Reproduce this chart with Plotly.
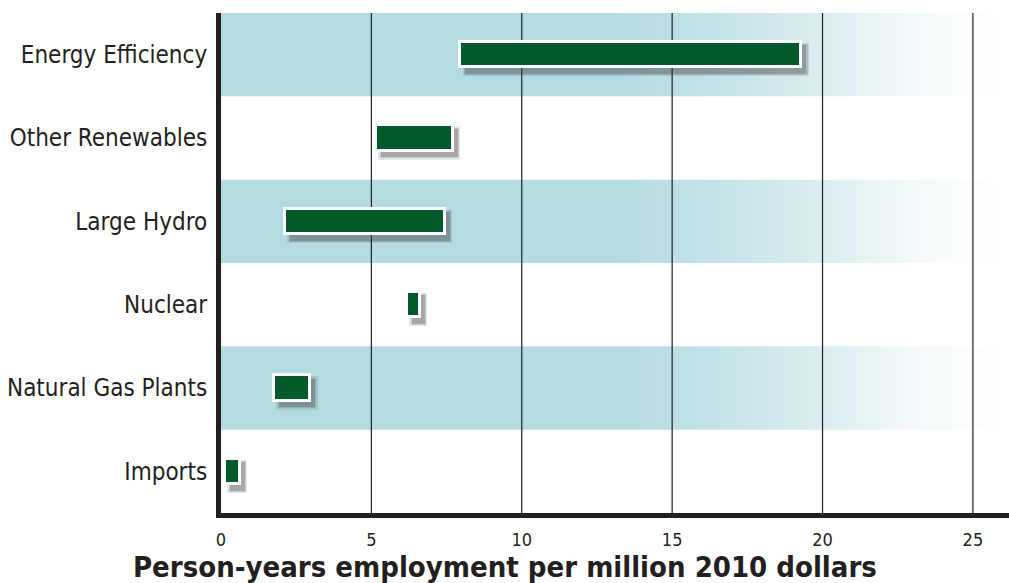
import plotly.graph_objects as go

categories = ["Energy Efficiency", "Other Renewables", "Large Hydro",
              "Nuclear", "Natural Gas Plants", "Imports"]
low = [7.95, 5.15, 2.12, 6.18, 1.76, 0.13]
high = [19.3, 7.71, 7.44, 6.61, 2.96, 0.63]
x_ticks = [0, 5, 10, 15, 20, 25]
x_title = "Person-years employment per million 2010 dollars"

XMAX = 26.2
W, H = 1009, 583
ML, MR, MT, MB = 221, 0, 13, 70
TXT = "#231f20"
FONT = "Liberation Sans Narrow, DejaVu Sans Condensed, Arial Narrow, sans-serif"
BAND = "#b3dbe1"
GREEN = "#005a2b"

n = len(categories)
idx = list(range(n))

fig = go.Figure()

# alternating bands (rows 0, 2, 4) with horizontal fade to white
bx, by = [], []
for i in idx[::2]:
    bx += [0, XMAX, XMAX, 0, 0, None]
    by += [i - 0.5, i - 0.5, i + 0.5, i + 0.5, i - 0.5, None]
fig.add_trace(go.Scatter(
    x=bx, y=by, mode="lines", fill="toself", line=dict(width=0),
    fillgradient=dict(type="horizontal", colorscale=[
        [0, BAND], [0.5, BAND], [0.62, "#c2e2e7"], [0.76, "#dbedf0"],
        [0.88, "#f3f9fa"], [1, "#ffffff"]]),
    hoverinfo="skip", showlegend=False, xaxis="x", yaxis="y"))

# vertical grid lines
gx, gy = [], []
for t in x_ticks[1:]:
    gx += [t, t, None]
    gy += [-0.52, 5.5, None]
fig.add_trace(go.Scatter(x=gx, y=gy, mode="lines",
                         line=dict(color=TXT, width=1.2),
                         hoverinfo="skip", showlegend=False,
                         xaxis="x", yaxis="y"))

widths = [hi - lo for lo, hi in zip(low, high)]
BW = 0.306
pxx = (W - ML - MR) / XMAX
pxy = (H - MT - MB) / n
dx = 5 / pxx
dy = 5 / pxy

# soft drop shadows
for grow, op in [(2.5, 0.12), (1.2, 0.16), (0.0, 0.25)]:
    gxu = grow / pxx
    gyu = grow / pxy
    fig.add_trace(go.Bar(
        orientation="h", y=[i + dy for i in idx],
        x=[w + 2 * gxu for w in widths],
        base=[lo + dx - gxu for lo in low],
        width=BW + 2 * gyu + 3 / pxy,
        marker=dict(color="#3a3a3a", opacity=op, line=dict(width=0)),
        hoverinfo="skip", showlegend=False, xaxis="x2", yaxis="y2"))

# the bars
fig.add_trace(go.Bar(
    orientation="h", y=idx, x=widths, base=low, width=BW,
    marker=dict(color=GREEN, line=dict(color="white", width=3)),
    customdata=list(zip(categories, low, high)),
    hovertemplate="%{customdata[0]}: %{customdata[1]}–%{customdata[2]}<extra></extra>",
    showlegend=False, xaxis="x2", yaxis="y2"))

fig.update_layout(
    width=W, height=H, margin=dict(l=ML, r=MR, t=MT, b=MB),
    paper_bgcolor="white", plot_bgcolor="white",
    barmode="overlay", bargap=0,
    font=dict(family=FONT, color=TXT),
    xaxis=dict(range=[0, XMAX], tickvals=x_ticks, showgrid=False,
               zeroline=False, showline=True, linewidth=5, linecolor=TXT,
               ticks="", ticklabelstandoff=6,
               tickfont=dict(size=18, family=FONT, color=TXT)),
    yaxis=dict(range=[n - 0.5, -0.5], tickvals=idx, ticktext=categories,
               showgrid=False, zeroline=False, showline=True, linewidth=5,
               linecolor=TXT, ticks="", ticklabelstandoff=4,
               tickfont=dict(size=24, family=FONT, color=TXT)),
    xaxis2=dict(range=[0, XMAX], overlaying="x", visible=False),
    yaxis2=dict(range=[n - 0.5, -0.5], overlaying="y", visible=False),
    annotations=[dict(text="<b>" + x_title + "</b>", xref="paper",
                      yref="paper", x=(505 - ML) / (W - ML - MR),
                      y=-(567 - (H - MB)) / (H - MT - MB),
                      xanchor="center", yanchor="middle", showarrow=False,
                      font=dict(size=29, family=FONT, color=TXT))],
)

fig.write_html("out.html")
